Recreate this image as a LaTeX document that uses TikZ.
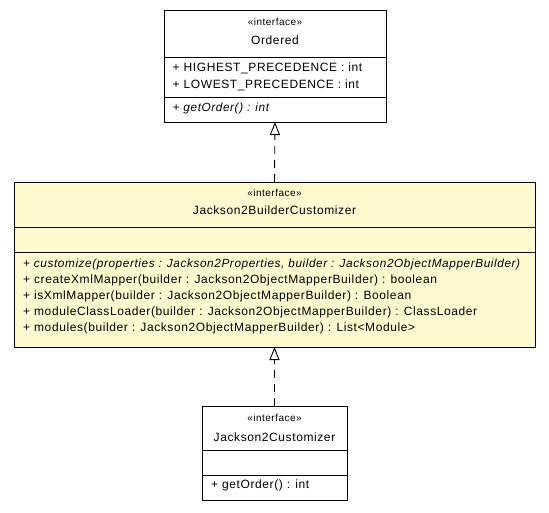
\documentclass[tikz,border=0pt]{standalone}
\usepackage{fontspec}
\setmainfont[LetterSpace=5]{Liberation Sans}
\usetikzlibrary{arrows.meta}
\definecolor{umlfill}{RGB}{255,250,208}
\tikzset{
  umlbox/.style={draw=black, line width=0.9pt, anchor=north west, inner sep=0pt, outer sep=0pt},
  sep/.style={line width=0.9pt},
  txt/.style={anchor=base west, inner sep=0pt, font=\fontsize{12}{14}\selectfont},
  itxt/.style={anchor=base west, inner sep=0pt, font=\fontsize{11.8}{14}\selectfont\itshape},
  ctxt/.style={anchor=base, inner sep=0pt, font=\fontsize{12}{14}\selectfont},
  stereo/.style={anchor=base, inner sep=0pt, font=\fontsize{10}{12}\selectfont},
  realize/.style={line width=0.9pt, dash pattern=on 8pt off 6pt, -{Triangle[open, length=13pt, width=10pt]}}
}
\begin{document}
\begin{tikzpicture}[x=1pt,y=-1pt]
\useasboundingbox (0,0) rectangle (549,512);
% Ordered
\node[umlbox, fill=white, minimum width=222pt, minimum height=112pt] (ordered) at (164,10) {};
\draw[sep] (164,57) -- (386,57);
\draw[sep] (164,97) -- (386,97);
\node[stereo] (o1) at (275,25.5) {«interface»};
\node[ctxt] (o2) at (275,44) {Ordered};
\node[txt] (o3) at (172.5,71) {+ HIGHEST\_PRECEDENCE : int};
\node[txt] (o4) at (172.5,88) {+ LOWEST\_PRECEDENCE : int};
\node[itxt] (o5) at (172.5,111) {+ getOrder() : int};
% Jackson2BuilderCustomizer
\node[umlbox, fill=umlfill, minimum width=521pt, minimum height=165pt] (builder) at (14,182) {};
\draw[sep] (14,227) -- (535,227);
\draw[sep] (14,252) -- (535,252);
\node[stereo] (b1) at (274.5,196.5) {«interface»};
\node[ctxt] (b2) at (274.5,214) {Jackson2BuilderCustomizer};
\node[itxt] (b3) at (23,267) {+ customize(properties : Jackson2Properties, builder : Jackson2ObjectMapperBuilder)};
\node[txt] (b4) at (23,283) {+ createXmlMapper(builder : Jackson2ObjectMapperBuilder) : boolean};
\node[txt] (b5) at (23,299) {+ isXmlMapper(builder : Jackson2ObjectMapperBuilder) : Boolean};
\node[txt] (b6) at (23,315) {+ moduleClassLoader(builder : Jackson2ObjectMapperBuilder) : ClassLoader};
\node[txt] (b7) at (23,331) {+ modules(builder : Jackson2ObjectMapperBuilder) : List<Module>};
% Jackson2Customizer
\node[umlbox, fill=white, minimum width=145pt, minimum height=94pt] (cust) at (202,406) {};
\draw[sep] (202,450) -- (347,450);
\draw[sep] (202,475) -- (347,475);
\node[stereo] (c1) at (274.5,421.5) {«interface»};
\node[ctxt] (c2) at (274.5,441.5) {Jackson2Customizer};
\node[txt] (c3) at (211,488.5) {+ getOrder() : int};
% connectors
\draw[realize] (builder.north) -- (ordered.south);
\draw[realize] (cust.north) -- (builder.south);
\end{tikzpicture}
\end{document}
